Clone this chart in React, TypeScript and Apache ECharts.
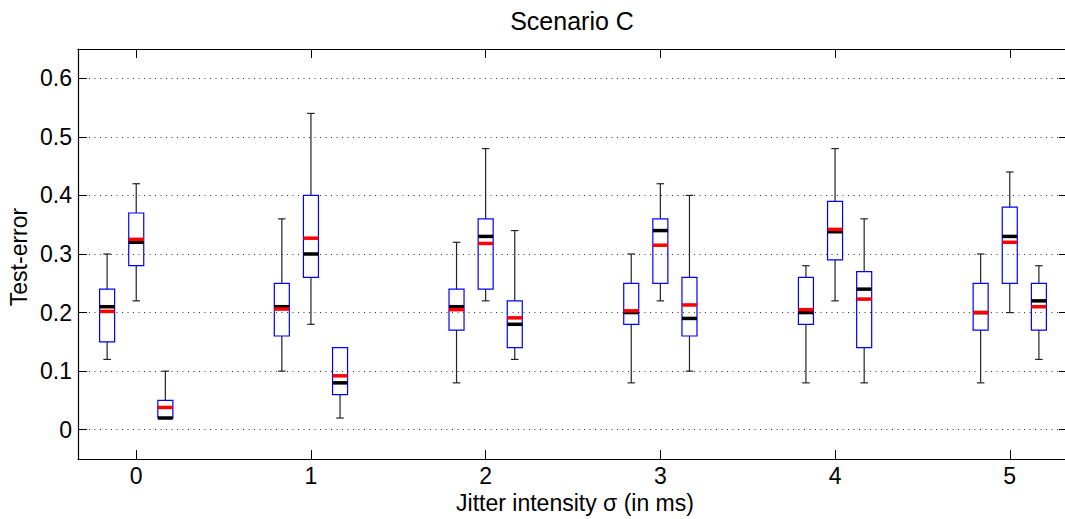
import React, { useEffect, useRef } from "react";
import * as echarts from "echarts";

// ---- data ----
const jitterLevels = [0, 1, 2, 3, 4, 5];
const xTickLabels = ["0", "1", "2", "3", "4", "5"];
const yTickValues = [0, 0.1, 0.2, 0.3, 0.4, 0.5, 0.6];
const yTickLabels = ["0", "0.1", "0.2", "0.3", "0.4", "0.5", "0.6"];

const chartTitle = "Scenario C";
const xAxisTitle = "Jitter intensity \u03c3 (in ms)";
const yAxisTitle = "Test-error";

const seriesNames = ["Method 1", "Method 2", "Method 3"];

// left box of each group
const m1Lower = [0.12, 0.1, 0.08, 0.08, 0.08, 0.08];
const m1Q1 = [0.15, 0.16, 0.17, 0.18, 0.18, 0.17];
const m1Median = [0.21, 0.21, 0.21, 0.2, 0.2, 0.2];
const m1Q3 = [0.24, 0.25, 0.24, 0.25, 0.26, 0.25];
const m1Upper = [0.3, 0.36, 0.32, 0.3, 0.28, 0.3];
const m1Mean = [0.202, 0.206, 0.205, 0.203, 0.205, 0.2];

// middle box of each group
const m2Lower = [0.22, 0.18, 0.22, 0.22, 0.22, 0.2];
const m2Q1 = [0.28, 0.26, 0.24, 0.25, 0.29, 0.25];
const m2Median = [0.32, 0.3, 0.33, 0.34, 0.338, 0.33];
const m2Q3 = [0.37, 0.4, 0.36, 0.36, 0.39, 0.38];
const m2Upper = [0.42, 0.54, 0.48, 0.42, 0.48, 0.44];
const m2Mean = [0.325, 0.327, 0.318, 0.315, 0.342, 0.32];

// right box of each group
const m3Lower = [0.02, 0.02, 0.12, 0.1, 0.08, 0.12];
const m3Q1 = [0.02, 0.06, 0.14, 0.16, 0.14, 0.17];
const m3Median = [0.02, 0.08, 0.18, 0.19, 0.24, 0.22];
const m3Q3 = [0.05, 0.14, 0.22, 0.26, 0.27, 0.25];
const m3Upper = [0.1, 0.14, 0.34, 0.4, 0.36, 0.28];
const m3Mean = [0.038, 0.092, 0.191, 0.213, 0.223, 0.21];

// ---- layout constants ----
const GROUP_OFFSETS = [-1 / 6, 0, 1 / 6];
const BOX_WIDTH = 0.086;
const FONT = "'Liberation Sans', Arial, Helvetica, sans-serif";

function buildItems(
  s: number,
  lower: number[],
  q1: number[],
  med: number[],
  q3: number[],
  upper: number[],
  mean: number[]
) {
  return jitterLevels.map((g, i) => [
    g + GROUP_OFFSETS[s],
    lower[i],
    q1[i],
    med[i],
    q3[i],
    upper[i],
    mean[i],
  ]);
}

const boxData = [
  buildItems(0, m1Lower, m1Q1, m1Median, m1Q3, m1Upper, m1Mean),
  buildItems(1, m2Lower, m2Q1, m2Median, m2Q3, m2Upper, m2Mean),
  buildItems(2, m3Lower, m3Q1, m3Median, m3Q3, m3Upper, m3Mean),
];

function renderBox(params: any, api: any) {
  const x = api.value(0);
  const lo = api.coord([x, api.value(1)]);
  const q1 = api.coord([x, api.value(2)]);
  const med = api.coord([x, api.value(3)]);
  const q3 = api.coord([x, api.value(4)]);
  const hi = api.coord([x, api.value(5)]);
  const mean = api.coord([x, api.value(6)]);
  const w = api.size([BOX_WIDTH, 0])[0];
  const cx = lo[0];
  const half = w / 2;
  const cap = w * 0.25;
  const whisk = { stroke: "#222", lineWidth: 1.2 };
  const children: any[] = [];
  if (q3[1] - hi[1] > 0.5) {
    children.push({ type: "line", shape: { x1: cx, y1: q3[1], x2: cx, y2: hi[1] }, style: whisk });
    children.push({ type: "line", shape: { x1: cx - cap, y1: hi[1], x2: cx + cap, y2: hi[1] }, style: whisk });
  }
  if (lo[1] - q1[1] > 0.5) {
    children.push({ type: "line", shape: { x1: cx, y1: q1[1], x2: cx, y2: lo[1] }, style: whisk });
    children.push({ type: "line", shape: { x1: cx - cap, y1: lo[1], x2: cx + cap, y2: lo[1] }, style: whisk });
  }
  children.push({
    type: "rect",
    shape: { x: cx - half, y: q3[1], width: w, height: q1[1] - q3[1] },
    style: { fill: "none", stroke: "#0000ff", lineWidth: 1.2 },
  });
  children.push({
    type: "line",
    shape: { x1: cx - half, y1: med[1], x2: cx + half, y2: med[1] },
    style: { stroke: "#000000", lineWidth: 3.5 },
  });
  children.push({
    type: "line",
    shape: { x1: cx - half, y1: mean[1], x2: cx + half, y2: mean[1] },
    style: { stroke: "#ff0000", lineWidth: 3.5 },
  });
  return { type: "group", children };
}

export default function App() {
  const ref = useRef<HTMLDivElement>(null);

  useEffect(() => {
    if (!ref.current) return;
    const chart = echarts.init(ref.current, undefined, { renderer: "svg" });
    const axisLine = { show: true, onZero: false, lineStyle: { color: "#000", width: 1.2 } };
    const tickStyle = { color: "#000", width: 1 };
    const option: any = {
      animation: false,
      backgroundColor: "#ffffff",
      textStyle: { fontFamily: FONT },
      grid: { left: 78, right: 2, top: 49, bottom: 60, containLabel: false },
      xAxis: [
        {
          type: "value",
          position: "bottom",
          min: -1 / 3,
          max: 16 / 3,
          axisLine,
          axisTick: { show: true, inside: true, length: 9, lineStyle: tickStyle, customValues: jitterLevels },
          axisLabel: {
            show: true,
            customValues: jitterLevels,
            formatter: (v: number) => xTickLabels[jitterLevels.indexOf(Math.round(v))] ?? "",
            color: "#000",
            fontSize: 23,
            lineHeight: 22,
            fontFamily: FONT,
            margin: 6,
          },
          splitLine: { show: false },
        },
        {
          type: "value",
          position: "top",
          min: -1 / 3,
          max: 16 / 3,
          axisLine,
          axisTick: { show: true, inside: true, length: 9, lineStyle: tickStyle, customValues: jitterLevels },
          axisLabel: { show: false },
          splitLine: { show: false },
        },
      ],
      yAxis: [
        {
          type: "value",
          position: "left",
          min: -0.05,
          max: 0.65,
          axisLine,
          axisTick: { show: true, inside: true, length: 9, lineStyle: tickStyle, customValues: yTickValues },
          axisLabel: {
            show: true,
            customValues: yTickValues,
            formatter: (v: number) => {
              const idx = yTickValues.findIndex((t) => Math.abs(t - v) < 1e-6);
              return idx >= 0 ? yTickLabels[idx] : "";
            },
            color: "#000",
            fontSize: 23,
            fontFamily: FONT,
            margin: 6,
          },
          splitLine: {
            show: true,
            lineStyle: { color: "#333", width: 1, type: [1, 4.5] },
          },
        },
        {
          type: "value",
          position: "right",
          min: -0.05,
          max: 0.65,
          axisLine,
          axisTick: { show: true, inside: true, length: 9, lineStyle: tickStyle, customValues: yTickValues },
          axisLabel: { show: false },
          splitLine: { show: false },
        },
      ],
      series: boxData.map((d, s) => ({
        type: "custom",
        name: seriesNames[s],
        xAxisIndex: 0,
        yAxisIndex: 0,
        renderItem: renderBox,
        encode: { x: 0, y: [1, 2, 3, 4, 5, 6] },
        data: d,
        z: 10,
      })),
      graphic: [
        {
          type: "text",
          x: 572,
          y: 21,
          style: {
            text: chartTitle,
            font: `25px ${FONT}`,
            fill: "#000",
            align: "center",
            verticalAlign: "middle",
            textAlign: "center",
            textVerticalAlign: "middle",
          },
        },
        {
          type: "text",
          x: 575,
          y: 503,
          style: {
            text: xAxisTitle,
            font: `23px ${FONT}`,
            fill: "#000",
            align: "center",
            verticalAlign: "middle",
            textAlign: "center",
            textVerticalAlign: "middle",
          },
        },
        {
          type: "text",
          x: 18.5,
          y: 257,
          rotation: Math.PI / 2,
          style: {
            text: yAxisTitle,
            font: `23px ${FONT}`,
            fill: "#000",
            align: "center",
            verticalAlign: "middle",
            textAlign: "center",
            textVerticalAlign: "middle",
          },
        },
      ],
    };
    chart.setOption(option);
    return () => chart.dispose();
  }, []);

  return (
    <div
      ref={ref}
      style={{ position: "fixed", left: 0, top: 0, width: 1070, height: 519, background: "#fff" }}
    />
  );
}
